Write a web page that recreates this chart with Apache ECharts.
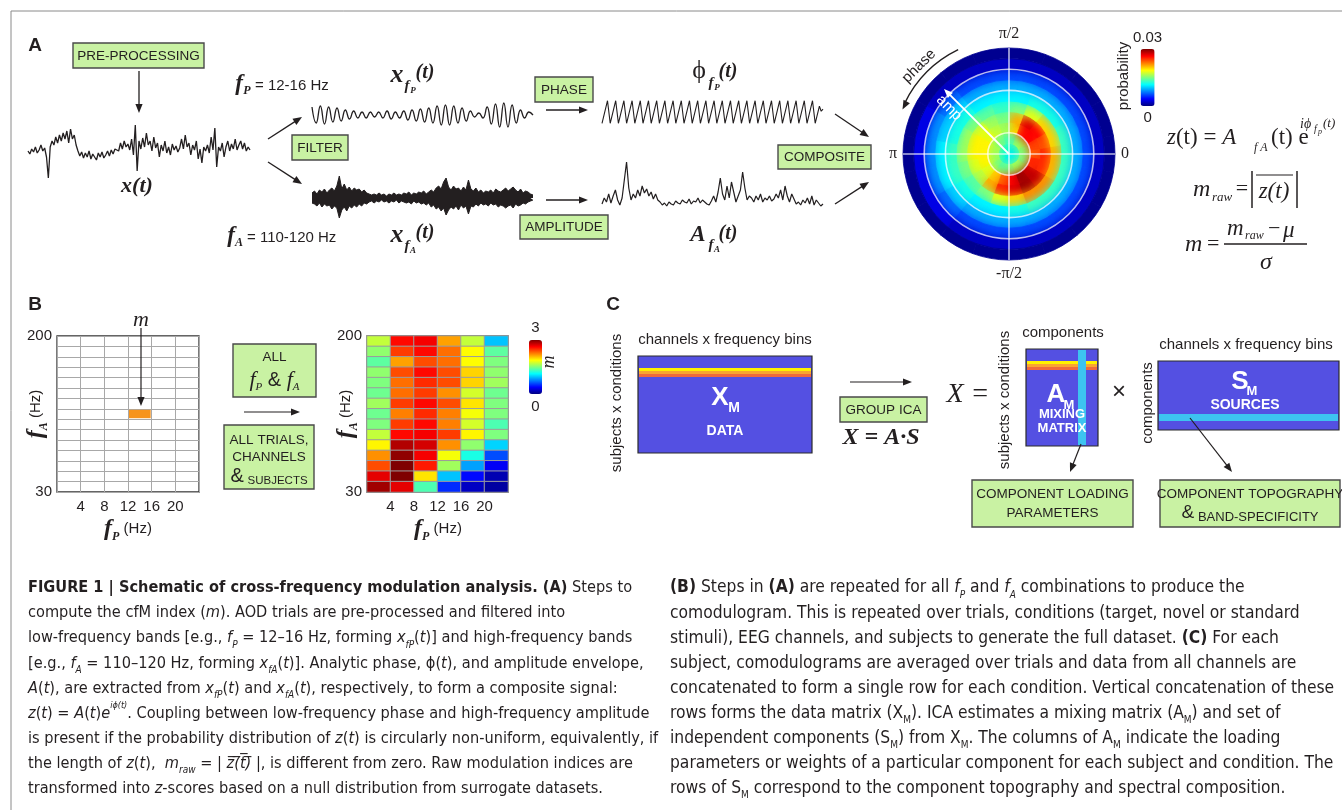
<!DOCTYPE html>
<html>
<head>
<meta charset="utf-8">
<title>Schematic of cross-frequency modulation analysis</title>
<script src="https://cdn.jsdelivr.net/npm/echarts@6/dist/echarts.min.js"></script>
<style>
html,body{margin:0;padding:0;background:#ffffff;}
#chart{width:1342px;height:810px;}
</style>
</head>
<body>
<div id="chart"></div>
<script>
// ================= DATA =================
const rawSignal = [2,-1,4,1,6,0,3,8,2,5,
  -4,-25,6,
  12,8,16,10,18,12,20,14,22,10,24,
  14,18,8,
  2,-3,1,-5,0,-4,2,-6,-1,-3,-7,0,-4,1,-5,-2,2,-3,3,-1,4,
  6,2,10,4,12,6,9,3,14,-2,
  28,-18,12,4,
  15,6,20,8,12,2,16,5,10,-4,8,2,12,0,6,-2,9,3,7,1,
  5,14,4,18,6,10,-2,8,3,12,-6,4,-10,6,
  2,8,0,16,3,25,-14,6,2,10,-4,
  6,12,2,9,4,14,3,8,12,4,10,2,6,3];
const phaseBandSignal = [8,-8,9,-9,8,-7,7,-6,5,-4,4,-3,3,-3,3,-2,3,-3,4,-4,3,-3,4,-5,5,-6,6,-7,7,-8,9,-10,10,-10,9,-8,7,-6,4,-2,2,-3,8,-9,11,-12,12,-12,10,-8,5,-3,3,0];
const phaseSamples = [[0,-3.1],[5.5,3.1],[8.2,-3.1],[13.7,3.1],[16.4,-3.1],[21.9,3.1],[24.6,-3.1],[30.1,3.1],[32.8,-3.1],[38.3,3.1],[41,-3.1],[46.5,3.1],[49.2,-3.1],[54.7,3.1],[57.4,-3.1],[62.9,3.1],[65.6,-3.1],[71.1,3.1],[73.8,-3.1],[79.3,3.1],[82,-3.1],[87.5,3.1],[90.2,-3.1],[95.7,3.1],[98.4,-3.1],[103.9,3.1],[106.6,-3.1],[112.1,3.1],[114.8,-3.1],[120.3,3.1],[123,-3.1],[128.5,3.1],[131.2,-3.1],[136.7,3.1],[139.4,-3.1],[144.9,3.1],[147.6,-3.1],[153.1,3.1],[155.8,-3.1],[161.3,3.1],[164,-3.1],[169.5,3.1],[172.2,-3.1],[177.7,3.1],[180.4,-3.1],[185.9,3.1],[188.6,-3.1],[194.1,3.1],[196.8,-3.1],[202.3,3.1],[205,-3.1],[210.5,3.1],[213.2,-3.1],[217.4,1.6],[219.2,0.2],[221,0.8]];
const ampBandUpper = [5,7,4,8,6,9,5,8,10,7, 12,22,9,14,8,11,7,10,8,9, 6,8,5,4,3,4,3,5,3,4, 2,4,3,5,3,4,3,5,4,6, 3,5,4,6,5,7,4,6,8,6, 10,12,9,16,20,11,8,12,9,10, 7,11,8,18,9,7,10,6,8,5, 7,6,8,5,9,7,6,8,10,7, 9,11,8,6,9,5,7,6,4,3];
const ampBandLower = [-5,-6,-8,-5,-9,-6,-8,-7,-11,-8, -10,-20,-12,-9,-13,-8,-10,-7,-9,-6, -8,-5,-6,-4,-3,-5,-3,-4,-2,-4, -3,-5,-3,-4,-2,-5,-3,-4,-5,-4, -6,-3,-5,-4,-6,-5,-7,-5,-9,-7, -11,-9,-13,-10,-17,-12,-9,-11,-8,-12, -7,-10,-8,-16,-8,-9,-6,-8,-5,-7, -6,-8,-5,-7,-6,-9,-7,-8,-10,-8, -7,-10,-6,-8,-7,-5,-6,-4,-3,-2];
const ampEnvelope = [4,10,6,14,5,12,18,8,3,10, 28,46,20,8,14,10,18,12,22,15, 19,12,16,9,14,8,6,3,5,2, 6,4,3,7,5,4,8,6,5,9, 4,7,6,10,5,8,6,4,3,7, 12,6,16,30,14,8,22,10,26,16, 6,12,18,36,20,8,12,10,6,12, 8,14,6,10,8,12,7,9,14,10, 18,8,22,12,6,14,9,4,6,3, 8,5,10,4,12,3,8,5,2,4];
const polarAngleEdges = [-10,10,30,50,70,90,110,130,150,170,190,210,230,250,270,290,310,330,350];
const polarRadiusEdges = [0,0.1,0.2,0.3,0.4,0.5,0.6,0.7,0.8,0.9,1.0];
const polarProb = [
  [0.011,0.011,0.011,0.011,0.011,0.012,0.012,0.012,0.012,0.012,0.012,0.012,0.011,0.011,0.011,0.011,0.011,0.011],
  [0.015,0.015,0.016,0.016,0.014,0.013,0.014,0.015,0.016,0.016,0.016,0.015,0.014,0.014,0.015,0.016,0.016,0.015],
  [0.023,0.024,0.026,0.026,0.020,0.016,0.017,0.018,0.019,0.019,0.019,0.018,0.020,0.023,0.026,0.029,0.028,0.025],
  [0.025,0.024,0.026,0.027,0.021,0.015,0.016,0.018,0.019,0.019,0.018,0.017,0.021,0.025,0.027,0.029,0.028,0.025],
  [0.021,0.020,0.020,0.018,0.015,0.013,0.014,0.015,0.016,0.016,0.015,0.014,0.015,0.018,0.020,0.022,0.022,0.021],
  [0.013,0.013,0.012,0.012,0.011,0.011,0.011,0.012,0.012,0.013,0.013,0.012,0.011,0.011,0.012,0.013,0.013,0.013],
  [0.009,0.009,0.009,0.009,0.009,0.009,0.009,0.010,0.010,0.011,0.011,0.010,0.009,0.009,0.009,0.009,0.009,0.009],
  [0.006,0.006,0.006,0.006,0.006,0.006,0.006,0.007,0.008,0.008,0.008,0.007,0.006,0.006,0.006,0.006,0.006,0.006],
  [0.002,0.002,0.002,0.002,0.002,0.002,0.002,0.002,0.003,0.003,0.003,0.003,0.002,0.002,0.002,0.002,0.002,0.002],
  [0.0005,0.0005,0.0005,0.0005,0.0005,0.0005,0.0005,0.0005,0.0005,0.0005,0.0005,0.0005,0.0005,0.0005,0.0005,0.0005,0.0005,0.0005]
];
const ampRings = [0.2, 0.6, 0.8];
const phaseTickValues = [0, 90, 180, 270];
const phaseTickLabels = ['0', 'π/2', 'π', '-π/2'];
const probRange = [0, 0.03];
const fpBands = ['0-4','4-8','8-12','12-16','16-20','20-24'];
const fpTicks = [4, 8, 12, 16, 20];
const faBins = ['30','41','53','64','75','87','98','109','121','132','143','155','166','177','189'];
const faRange = [30, 200];
const comodRange = [0, 3];
const comodulogram = [
  [1.70,2.60,2.65,2.15,1.70,0.95],
  [1.55,2.45,2.60,2.30,1.88,1.40],
  [1.40,2.15,2.40,2.30,1.88,1.50],
  [1.55,2.40,2.60,2.40,2.00,1.55],
  [1.50,2.30,2.50,2.40,2.00,1.60],
  [1.45,2.30,2.45,2.20,1.75,1.45],
  [1.60,2.45,2.60,2.40,1.95,1.50],
  [1.45,2.25,2.50,2.25,1.85,1.50],
  [1.50,2.45,2.60,2.25,1.75,1.35],
  [1.70,2.60,2.65,2.45,1.90,1.50],
  [1.90,2.85,2.75,2.20,1.55,1.00],
  [2.20,2.95,2.65,1.85,1.20,0.60],
  [2.40,3.00,2.55,1.60,0.85,0.35],
  [2.70,3.00,1.95,0.95,0.40,0.15],
  [2.90,2.70,1.35,0.50,0.20,0.10]
];
const exampleCell = [3, 7];

// ================= STYLE =================
const INK = '#231f20';
const SANS = "'Liberation Sans', Arial, sans-serif";
const SERIF = "'Liberation Serif', 'Times New Roman', serif";
const CAP = "'DejaVu Sans Condensed', 'Liberation Sans', sans-serif";
const GREEN = '#c9f2a3';
const BLUE = '#5450e2';
const CYAN = '#3dc3f0';
const JET = ['#00007f','#0000ff','#007fff','#00ffff','#7fff7f','#ffff00','#ff7f00','#ff0000','#7f0000'];

// ================= HELPERS =================
function txt(text, x, y, font, o) {
  o = o || {};
  return { type: 'text', x: x, y: y, rotation: o.rot || 0, z: 100, silent: true,
    style: { text: text, font: font, fill: o.fill || INK, align: o.align || 'center',
      verticalAlign: o.va || 'middle', rich: o.rich, lineHeight: o.lh } };
}
function head(x1, y1, x2, y2, color, L, W) {
  const a = Math.atan2(y2 - y1, x2 - x1);
  const bx = x2 - L * Math.cos(a), by = y2 - L * Math.sin(a);
  return { type: 'polygon', z: 100, silent: true,
    shape: { points: [[x2, y2], [bx + W * Math.sin(a), by - W * Math.cos(a)], [bx - W * Math.sin(a), by + W * Math.cos(a)]] },
    style: { fill: color } };
}
function arrow(x1, y1, x2, y2, o) {
  o = o || {};
  const color = o.color || INK, L = o.L || 9, W = o.W || 3.6;
  const a = Math.atan2(y2 - y1, x2 - x1);
  return [
    { type: 'line', z: 100, silent: true, shape: { x1: x1, y1: y1, x2: x2 - (L - 1) * Math.cos(a), y2: y2 - (L - 1) * Math.sin(a) },
      style: { stroke: color, lineWidth: o.w || 1.3 } },
    head(x1, y1, x2, y2, color, L, W)
  ];
}
function rect(x, y, w, h, fill, stroke, lw) {
  return { type: 'rect', z: 90, silent: true, shape: { x: x, y: y, width: w, height: h },
    style: { fill: fill, stroke: stroke || null, lineWidth: lw || 0 } };
}
function line(x1, y1, x2, y2, color, w) {
  return { type: 'line', z: 100, silent: true, shape: { x1: x1, y1: y1, x2: x2, y2: y2 }, style: { stroke: color || INK, lineWidth: w || 1.3 } };
}
const BOXFONT = '13.5px ' + SANS;
function greenBox(x, y, w, h) { return rect(x, y, w, h, GREEN, '#4a4a4a', 1.4); }

// ================= GRAPHIC ELEMENTS =================
const G = [];
const add = function () { for (let i = 0; i < arguments.length; i++) { const a = arguments[i]; Array.isArray(a) ? G.push.apply(G, a) : G.push(a); } };

add(line(11, 11, 1342, 11, '#8a8a8a', 1), line(11, 11, 11, 810, '#8a8a8a', 1));

// ---- Panel A ----
add(txt('A', 35, 46, 'bold 19px ' + SANS));
add(greenBox(73, 43, 131, 25), txt('PRE-PROCESSING', 138.5, 56, BOXFONT));
add(arrow(139, 71, 139, 113));
add(txt('x(t)', 137, 186, 'italic bold 22px ' + SERIF));
add(arrow(268, 139, 302, 117), arrow(268, 162, 302, 184));
add(greenBox(292, 135, 56, 25), txt('FILTER', 320, 148, BOXFONT));
add(txt('f', 239, 84, 'italic bold 23px ' + SERIF), txt('P', 247, 91, 'italic bold 12px ' + SERIF),
    txt('= 12-16 Hz', 255, 86, '15px ' + SANS, { align: 'left' }));
add(txt('f', 231, 236, 'italic bold 23px ' + SERIF), txt('A', 239, 243, 'italic bold 12px ' + SERIF),
    txt('= 110-120 Hz', 247, 238, '15px ' + SANS, { align: 'left' }));
add(txt('x', 397, 75, 'italic bold 26px ' + SERIF), txt('f', 407, 86, 'italic bold 15px ' + SERIF),
    txt('P', 413, 91, 'italic bold 9px ' + SERIF), txt('(t)', 425, 73, 'italic bold 20px ' + SERIF));
add(txt('x', 397, 235, 'italic bold 26px ' + SERIF), txt('f', 407, 246, 'italic bold 15px ' + SERIF),
    txt('A', 413, 251, 'italic bold 9px ' + SERIF), txt('(t)', 425, 233, 'italic bold 20px ' + SERIF));
add(greenBox(535, 77, 58, 25), txt('PHASE', 564, 90, BOXFONT));
add(arrow(546, 110, 588, 110));
add(greenBox(520, 215, 88, 24), txt('AMPLITUDE', 564, 227.5, BOXFONT));
add(arrow(546, 200, 588, 200));
add(txt('ϕ', 699, 71, '26px ' + SERIF), txt('f', 711, 83, 'italic bold 15px ' + SERIF),
    txt('P', 717, 88, 'italic bold 9px ' + SERIF), txt('(t)', 728, 72, 'italic bold 20px ' + SERIF));
add(txt('A', 698, 235, 'italic bold 23px ' + SERIF), txt('f', 711, 245, 'italic bold 15px ' + SERIF),
    txt('A', 717, 250, 'italic bold 9px ' + SERIF), txt('(t)', 728, 234, 'italic bold 20px ' + SERIF));
add(arrow(835, 114, 869, 137), arrow(835, 204, 869, 182));
add(greenBox(778, 145, 93, 24), txt('COMPOSITE', 824.5, 157.5, BOXFONT));
add({ type: 'arc', z: 100, silent: true, shape: { cx: 1009, cy: 154, r: 116, startAngle: -154 * Math.PI / 180, endAngle: -116 * Math.PI / 180, clockwise: true },
  style: { stroke: INK, lineWidth: 1.4, fill: null } });
add(head(907.5, 100, 902.5, 109.5, INK, 9, 3.6));
add(txt('phase', 919, 66, '15px ' + SANS, { rot: Math.PI / 4 }));
add(arrow(1009, 154, 944, 89, { color: '#ffffff', w: 1.8 }));
add(txt('amp', 949, 108, '15px ' + SANS, { rot: -Math.PI / 4, fill: '#ffffff' }));
add(txt('probability', 1124, 76, '15px ' + SANS, { rot: Math.PI / 2 }));
// equations
add(txt('{i|z}(t) = {i|A}', 1167, 138, '23px ' + SERIF, { align: 'left', rich: { i: { fontStyle: 'italic', fontSize: 23, fontFamily: SERIF } } }));
add(txt('f A', 1254, 148, 'italic 12px ' + SERIF, { align: 'left' }));
add(txt('(t) e', 1271, 138, '23px ' + SERIF, { align: 'left' }));
add(txt('iϕ', 1300, 124, 'italic 14px ' + SERIF, { align: 'left' }));
add(txt('f', 1314, 129, 'italic 10px ' + SERIF, { align: 'left' }), txt('p', 1318, 132, 'italic 8px ' + SERIF, { align: 'left' }));
add(txt('(t)', 1323, 124, 'italic 13px ' + SERIF, { align: 'left' }));
add(txt('m', 1193, 190, 'italic 24px ' + SERIF, { align: 'left' }), txt('raw', 1212, 198, 'italic 13px ' + SERIF, { align: 'left' }),
    txt('=', 1242, 189, '22px ' + SERIF));
add(line(1252, 171, 1252, 208, INK, 1.5), line(1297, 171, 1297, 208, INK, 1.5), line(1256, 175, 1293, 175, INK, 1.2));
add(txt('z(t)', 1274, 192, 'italic 23px ' + SERIF));
add(txt('m', 1185, 245, 'italic 24px ' + SERIF, { align: 'left' }), txt('=', 1207, 244, '22px ' + SERIF, { align: 'left' }));
add(txt('m', 1227, 229, 'italic 23px ' + SERIF, { align: 'left' }), txt('raw', 1245, 236, 'italic 12px ' + SERIF, { align: 'left' }),
    txt('− ', 1268, 229, '22px ' + SERIF, { align: 'left' }), txt('μ', 1283, 231, 'italic 23px ' + SERIF, { align: 'left' }));
add(line(1224, 244, 1307, 244, INK, 1.4));
add(txt('σ', 1266, 263, 'italic 24px ' + SERIF));

// ---- Panel B ----
add(txt('B', 35, 305, 'bold 19px ' + SANS));
add(txt('m', 141, 320, 'italic 22px ' + SERIF));
add(arrow(141, 328, 141, 406, { w: 1.2 }));
const fRich = {
  f: { fontFamily: SERIF, fontStyle: 'italic', fontWeight: 'bold', fontSize: 24, lineHeight: 28 },
  s: { fontFamily: SERIF, fontStyle: 'italic', fontWeight: 'bold', fontSize: 12, lineHeight: 12, verticalAlign: 'bottom' },
  h: { fontFamily: SANS, fontSize: 15, lineHeight: 28 }
};
add(txt('{f|f}{s|A}{h| (Hz)}', 36, 414, '15px ' + SANS, { rot: Math.PI / 2, rich: fRich, lh: 28 }));
add(txt('{f|f}{s|A}{h| (Hz)}', 346, 414, '15px ' + SANS, { rot: Math.PI / 2, rich: fRich, lh: 28 }));
add(txt('{f|f}{s|P}{h| (Hz)}', 128, 529, '15px ' + SANS, { rich: fRich, lh: 28 }));
add(txt('{f|f}{s|P}{h| (Hz)}', 438, 529, '15px ' + SANS, { rich: fRich, lh: 28 }));
add(greenBox(233, 344, 83, 53), txt('ALL', 274.5, 357, BOXFONT));
add(txt('{f|f}{s|P}{a| & }{f|f}{s|A}', 274.5, 380, '15px ' + SANS, { lh: 26, rich: {
  f: { fontFamily: SERIF, fontStyle: 'italic', fontSize: 22, lineHeight: 26 },
  s: { fontFamily: SERIF, fontStyle: 'italic', fontSize: 11, lineHeight: 11, verticalAlign: 'bottom' },
  a: { fontFamily: SANS, fontSize: 20, lineHeight: 26 } } }));
add(arrow(244, 412, 300, 412, { w: 1.2 }));
add(greenBox(224, 425, 90, 64), txt('ALL TRIALS,', 269, 440, BOXFONT), txt('CHANNELS', 269, 457, BOXFONT));
add(txt('{a|&} {b|SUBJECTS}', 269, 476, BOXFONT, { lh: 22, rich: {
  a: { fontFamily: SANS, fontSize: 20, lineHeight: 22 }, b: { fontFamily: SANS, fontSize: 11.5, lineHeight: 14, verticalAlign: 'bottom' } } }));
add(txt('m', 549, 362, 'italic 18px ' + SERIF, { rot: Math.PI / 2 }));

// ---- Panel C ----
add(txt('C', 613, 305, 'bold 19px ' + SANS));
add(txt('subjects x conditions', 617, 403, '15px ' + SANS, { rot: Math.PI / 2 }));
add(txt('channels x frequency bins', 725, 340, '15px ' + SANS));
add(rect(638, 356, 174, 97, BLUE, '#2a2a2a', 1.2));
add(rect(639, 368, 172, 3, '#fff200'), rect(639, 371, 172, 3, '#f9a531'), rect(639, 374, 172, 3, '#ef6a3c'));
add(txt('X', 720, 398, 'bold 26px ' + SANS, { fill: '#ffffff' }), txt('M', 734, 408, 'bold 14px ' + SANS, { fill: '#ffffff' }));
add(txt('DATA', 725, 431, 'bold 14px ' + SANS, { fill: '#ffffff' }));
add(arrow(850, 382, 912, 382, { w: 1.2 }));
add(greenBox(840, 397, 87, 25), txt('GROUP ICA', 883.5, 410, BOXFONT));
add(txt('X = A·S', 881, 438, 'italic bold 24px ' + SERIF));
add(txt('X =', 968, 395, 'italic 28px ' + SERIF));
add(txt('subjects x conditions', 1005, 400, '15px ' + SANS, { rot: Math.PI / 2 }));
add(txt('components', 1063, 333, '15px ' + SANS));
add(rect(1026, 349, 72, 97, BLUE, '#2a2a2a', 1.2));
add(rect(1027, 361, 70, 3, '#fff200'), rect(1027, 364, 70, 3, '#f9a531'), rect(1027, 367, 70, 3, '#ef6a3c'));
add(rect(1078, 350, 8, 95, CYAN));
add(txt('A', 1056, 395, 'bold 26px ' + SANS, { fill: '#ffffff' }), txt('M', 1069, 405, 'bold 13px ' + SANS, { fill: '#ffffff' }));
add(txt('MIXING', 1062, 414, 'bold 13px ' + SANS, { fill: '#ffffff' }), txt('MATRIX', 1062, 428, 'bold 13px ' + SANS, { fill: '#ffffff' }));
add(txt('×', 1119, 392, '24px ' + SANS));
add(txt('components', 1148, 403, '15px ' + SANS, { rot: Math.PI / 2 }));
add(txt('channels x frequency bins', 1246, 345, '15px ' + SANS));
add(rect(1158, 361, 181, 69, BLUE, '#2a2a2a', 1.2));
add(rect(1159, 414, 179, 7, CYAN));
add(txt('S', 1240, 382, 'bold 26px ' + SANS, { fill: '#ffffff' }), txt('M', 1252, 391, 'bold 13px ' + SANS, { fill: '#ffffff' }));
add(txt('SOURCES', 1245, 405, 'bold 14px ' + SANS, { fill: '#ffffff' }));
add(arrow(1081, 444, 1070, 472, { w: 1.2 }), arrow(1190, 418, 1232, 472, { w: 1.2 }));
add(greenBox(972, 480, 161, 47), txt('COMPONENT LOADING', 1052.5, 494, BOXFONT), txt('PARAMETERS', 1052.5, 513, BOXFONT));
add(greenBox(1160, 480, 180, 47), txt('COMPONENT TOPOGRAPHY', 1250, 494, BOXFONT));
add(txt('{a|&} {b|BAND-SPECIFICITY}', 1250, 513, BOXFONT, { lh: 22, rich: {
  a: { fontFamily: SANS, fontSize: 19, lineHeight: 22 }, b: { fontFamily: SANS, fontSize: 13, lineHeight: 16, verticalAlign: 'bottom' } } }));

// ---- Caption ----
function capRich(cs) {
  return {
    b: { fontFamily: CAP, fontWeight: 'bold', fontSize: cs, lineHeight: 24, fill: INK },
    i: { fontFamily: CAP, fontStyle: 'italic', fontSize: cs, lineHeight: 24, fill: INK },
    s: { fontFamily: CAP, fontStyle: 'italic', fontSize: 10, lineHeight: 11, verticalAlign: 'bottom', fill: INK },
    u: { fontFamily: CAP, fontSize: 10, lineHeight: 11, verticalAlign: 'bottom', fill: INK },
    p: { fontFamily: CAP, fontStyle: 'italic', fontSize: 9, lineHeight: 11, verticalAlign: 'top', fill: INK }
  };
}
const capLeft = [
  '{b|FIGURE 1 | Schematic of cross-frequency modulation analysis. (A)} Steps to',
  'compute the cfM index ({i|m}). AOD trials are pre-processed and filtered into',
  'low-frequency bands [e.g., {i|f}{s|P} = 12–16 Hz, forming {i|x}{s|fP}({i|t})] and high-frequency bands',
  '[e.g., {i|f}{s|A} = 110–120 Hz, forming {i|x}{s|fA}({i|t})]. Analytic phase, ϕ({i|t}), and amplitude envelope,',
  '{i|A}({i|t}), are extracted from {i|x}{s|fP}({i|t}) and {i|x}{s|fA}({i|t}), respectively, to form a composite signal:',
  '{i|z}({i|t}) = {i|A}({i|t}){i|e}{p|iϕ(t)}. Coupling between low-frequency phase and high-frequency amplitude',
  'is present if the probability distribution of {i|z}({i|t}) is circularly non-uniform, equivalently, if',
  'the length of {i|z}({i|t}),  {i|m}{s|raw} = | {i|z̅(̅t̅)̅} |, is different from zero. Raw modulation indices are',
  'transformed into {i|z}-scores based on a null distribution from surrogate datasets.'
];
const capRight = [
  '{b|(B)} Steps in {b|(A)} are repeated for all {i|f}{s|P} and {i|f}{s|A} combinations to produce the',
  'comodulogram. This is repeated over trials, conditions (target, novel or standard',
  'stimuli), EEG channels, and subjects to generate the full dataset. {b|(C)} For each',
  'subject, comodulograms are averaged over trials and data from all channels are',
  'concatenated to form a single row for each condition. Vertical concatenation of these',
  'rows forms the data matrix (X{u|M}). ICA estimates a mixing matrix (A{u|M}) and set of',
  'independent components (S{u|M}) from X{u|M}. The columns of A{u|M} indicate the loading',
  'parameters or weights of a particular component for each subject and condition. The',
  'rows of S{u|M} correspond to the component topography and spectral composition.'
];
const CSL = 16.2, CSR = 17.3;
capLeft.forEach(function (s, k) { add(txt(s, 28, 588 + 25.1 * k, CSL + 'px ' + CAP, { align: 'left', rich: capRich(CSL), lh: 24 })); });
capRight.forEach(function (s, k) { add(txt(s, 670, 588 + 25.1 * k, CSR + 'px ' + CAP, { align: 'left', rich: capRich(CSR), lh: 24 })); });

// ================= SERIES DATA BUILD =================
const rawData = rawSignal.map(function (v, i) { return [i, v]; });
const phaseBandData = phaseBandSignal.map(function (v, i) { return [i, v]; });
const upperData = ampBandUpper.map(function (v, i) { return [i, v]; });
const lowerData = ampBandLower.map(function (v, i) { return [i, v]; });
const envData = ampEnvelope.map(function (v, i) { return [i, v]; });
const heatData = [];
comodulogram.forEach(function (row, r) { row.forEach(function (v, c) { heatData.push([c, faBins.length - 1 - r, v]); }); });
const polarData = [];
polarProb.forEach(function (row, i) { row.forEach(function (p, j) {
  polarData.push([polarAngleEdges[j], polarAngleEdges[j + 1], polarRadiusEdges[i], polarRadiusEdges[i + 1], p]); }); });
const outerEdge = polarRadiusEdges[polarRadiusEdges.length - 2];

function renderSector(params, api) {
  const cs = params.coordSys, cx = cs.cx, cy = cs.cy;
  const pOut0 = api.coord([api.value(3), api.value(0)]);
  const pOut1 = api.coord([api.value(3), api.value(1)]);
  const pIn = api.coord([api.value(2), api.value(0)]);
  const rOut = Math.hypot(pOut0[0] - cx, pOut0[1] - cy);
  const rIn = Math.hypot(pIn[0] - cx, pIn[1] - cy);
  let s = Math.atan2(pOut1[1] - cy, pOut1[0] - cx);
  let e = Math.atan2(pOut0[1] - cy, pOut0[0] - cx);
  if (e < s) e += Math.PI * 2;
  const color = api.visual('color');
  const inner = api.value(2) < outerEdge;
  return { type: 'sector', shape: { cx: cx, cy: cy, r0: rIn, r: rOut, startAngle: s, endAngle: e, clockwise: true },
    style: { fill: color, stroke: color, lineWidth: 0.8, shadowBlur: inner ? 9 : 0, shadowColor: color } };
}
function renderRing(params, api) {
  const cs = params.coordSys;
  const p = api.coord([api.value(0), 0]);
  return { type: 'circle', shape: { cx: cs.cx, cy: cs.cy, r: Math.hypot(p[0] - cs.cx, p[1] - cs.cy) },
    style: { fill: 'none', stroke: 'rgba(255,255,255,0.72)', lineWidth: 1.6 } };
}
function renderSpoke(params, api) {
  const cs = params.coordSys;
  const p = api.coord([api.value(0), api.value(1)]);
  return { type: 'line', shape: { x1: cs.cx, y1: cs.cy, x2: p[0], y2: p[1] },
    style: { stroke: 'rgba(255,255,255,0.72)', lineWidth: 1.6 } };
}

const hiddenX = function (gi, max) { return { type: 'value', gridIndex: gi, min: 0, max: max, show: false }; };
const hiddenY = function (gi, min, max) { return { type: 'value', gridIndex: gi, min: min, max: max, show: false }; };
const wave = function (gi, data, o) {
  return Object.assign({ type: 'line', xAxisIndex: gi, yAxisIndex: gi, data: data, symbol: 'none', silent: true,
    lineStyle: { color: INK, width: 1.2 } }, o || {});
};
const catX = function (gi) { return { type: 'category', gridIndex: gi, data: fpBands, position: 'top', axisLine: { show: false }, axisTick: { show: false }, axisLabel: { show: false },
  splitLine: { show: gi === 5, interval: 0, lineStyle: { color: '#a8a8a8', width: 1 } } }; };
const catY = function (gi) { return { type: 'category', gridIndex: gi, data: faBins, position: 'right', axisLine: { show: false }, axisTick: { show: false }, axisLabel: { show: false },
  splitLine: { show: gi === 5, interval: 0, lineStyle: { color: '#a8a8a8', width: 1 } } }; };
const valX = function (gi) { return { type: 'value', gridIndex: gi, min: 0, max: 24, interval: 4, position: 'bottom', axisLine: { show: false }, axisTick: { show: false }, splitLine: { show: false },
  axisLabel: { color: INK, fontSize: 15, fontFamily: SANS, margin: 7, showMinLabel: false, showMaxLabel: false,
    formatter: function (v) { return fpTicks.indexOf(v) >= 0 ? String(v) : ''; } } }; };
const valY = function (gi) { return { type: 'value', gridIndex: gi, min: faRange[0], max: faRange[1], interval: faRange[1] - faRange[0], position: 'left', axisLine: { show: false }, axisTick: { show: false }, splitLine: { show: false },
  axisLabel: { color: INK, fontSize: 15, fontFamily: SANS, margin: 5 } }; };

const option = {
  animation: false,
  backgroundColor: '#ffffff',
  grid: [
    { left: 28, top: 123, width: 222, height: 60 },
    { left: 312, top: 100, width: 221, height: 30 },
    { left: 602, top: 100, width: 221, height: 24 },
    { left: 312, top: 175, width: 221, height: 46 },
    { left: 602, top: 158, width: 221, height: 50 },
    { left: 57, top: 336, width: 142, height: 156, show: true, borderColor: '#333333', borderWidth: 1.3, backgroundColor: '#ffffff' },
    { left: 367, top: 336, width: 141, height: 156, show: true, borderColor: '#333333', borderWidth: 1.3 }
  ],
  xAxis: [hiddenX(0, rawSignal.length - 1), hiddenX(1, phaseBandSignal.length - 1), hiddenX(2, 221), hiddenX(3, ampBandUpper.length - 1), hiddenX(4, ampEnvelope.length - 1),
    catX(5), valX(5), catX(6), valX(6)],
  yAxis: [hiddenY(0, -30, 30), hiddenY(1, -15, 15), hiddenY(2, -3.3, 3.3), hiddenY(3, -23, 23), hiddenY(4, 0, 50),
    catY(5), valY(5), catY(6), valY(6)],
  polar: { center: [1009, 154], radius: 106 },
  angleAxis: { type: 'value', min: 0, max: 360, startAngle: 0, clockwise: false, interval: 90, z: 5,
    axisLine: { show: false }, axisTick: { show: false }, splitLine: { show: false },
    axisLabel: { color: INK, fontSize: 16, fontFamily: SERIF, margin: 6,
      formatter: function (v) { const k = phaseTickValues.indexOf(v); return k >= 0 ? phaseTickLabels[k] : ''; } } },
  radiusAxis: { type: 'value', min: 0, max: 1, show: false },
  visualMap: [
    { type: 'continuous', seriesIndex: 7, min: comodRange[0], max: comodRange[1], calculable: false, orient: 'vertical',
      left: 529, top: 320, itemWidth: 13, itemHeight: 54, text: [String(comodRange[1]), String(comodRange[0])], textGap: 5, padding: 0,
      textStyle: { color: INK, fontSize: 15, fontFamily: SANS }, inRange: { color: JET } },
    { type: 'continuous', seriesIndex: 8, dimension: 4, min: probRange[0], max: probRange[1], calculable: false, orient: 'vertical',
      left: 1133, top: 30, itemWidth: 14, itemHeight: 57, text: [String(probRange[1]), String(probRange[0])], textGap: 4, padding: 0,
      textStyle: { color: INK, fontSize: 15, fontFamily: SANS }, inRange: { color: JET } }
  ],
  series: [
    wave(0, rawData, { lineStyle: { color: INK, width: 1.3 } }),
    wave(1, phaseBandData, { smooth: 0.5, lineStyle: { color: INK, width: 1.3 } }),
    wave(2, phaseSamples, { lineStyle: { color: INK, width: 1.1 } }),
    wave(3, upperData, { areaStyle: { color: INK, opacity: 1, origin: 0 }, lineStyle: { color: INK, width: 1 } }),
    wave(3, lowerData, { areaStyle: { color: INK, opacity: 1, origin: 0 }, lineStyle: { color: INK, width: 1 } }),
    wave(4, envData, { lineStyle: { color: INK, width: 1.2 } }),
    { type: 'custom', xAxisIndex: 5, yAxisIndex: 5, silent: true,
      data: [[exampleCell[0], faBins.length - 1 - exampleCell[1]]],
      renderItem: function (params, api) {
        const c = api.coord([api.value(0), api.value(1)]); const s = api.size([1, 1]);
        return { type: 'rect', shape: { x: c[0] - s[0] / 2 + 1, y: c[1] - s[1] / 2 + 1, width: s[0] - 2, height: s[1] - 2 }, style: { fill: '#f7941d' } };
      } },
    { type: 'heatmap', xAxisIndex: 7, yAxisIndex: 7, data: heatData, silent: true,
      itemStyle: { borderColor: '#9c9c9c', borderWidth: 1 }, emphasis: { disabled: true } },
    { type: 'custom', coordinateSystem: 'polar', data: polarData, silent: true, renderItem: renderSector,
      dimensions: ['a0', 'a1', 'r0', 'r1', 'p'], encode: { angle: [0, 1], radius: [2, 3] } },
    { type: 'custom', coordinateSystem: 'polar', data: ampRings.map(function (r) { return [r, 0]; }), silent: true, renderItem: renderRing, z: 3 },
    { type: 'custom', coordinateSystem: 'polar', data: phaseTickValues.map(function (a) { return [1, a]; }), silent: true, renderItem: renderSpoke, z: 3 }
  ],
  graphic: G
};

const chart = echarts.init(document.getElementById('chart'), null, { renderer: 'canvas', width: 1342, height: 810 });
chart.setOption(option);
</script>
</body>
</html>
